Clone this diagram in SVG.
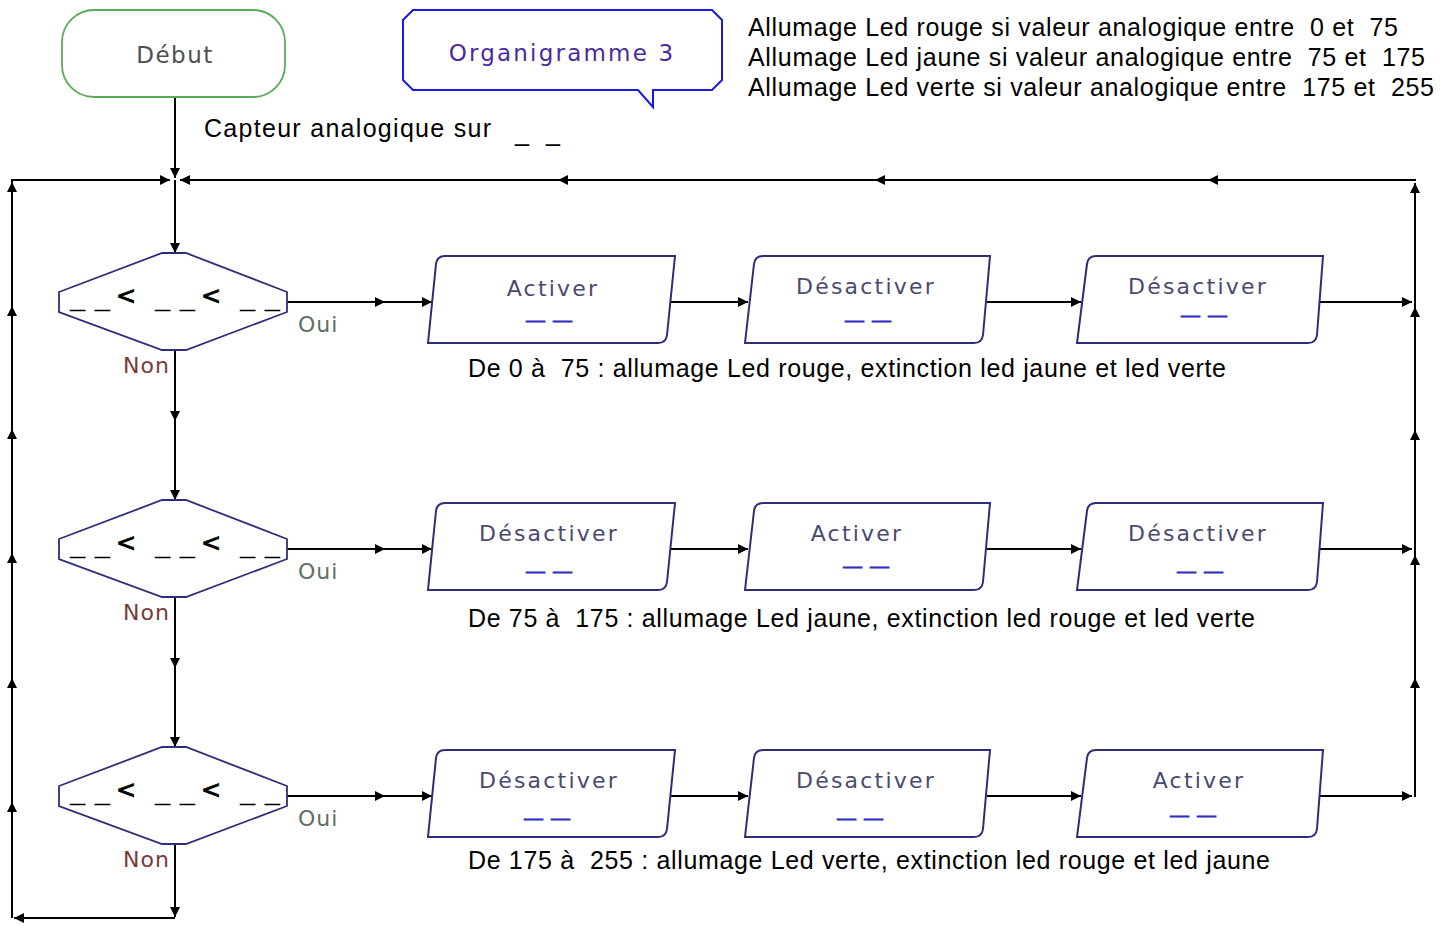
<svg xmlns="http://www.w3.org/2000/svg" width="1456" height="926" viewBox="0 0 1456 926">
<style>
.ln{stroke:#000;stroke-width:2;fill:none;marker-end:url(#arr)}
.box{fill:#fff;stroke:#2e2e78;stroke-width:2}
.dia{fill:#fff;stroke:#2e2e78;stroke-width:1.8}
.bt{font-family:"DejaVu Sans",sans-serif;font-size:22px;fill:#4a4a6e;letter-spacing:2.2px;text-anchor:middle}
.bd{font-family:"DejaVu Sans",sans-serif;font-size:14px;fill:#3030c0;stroke:#3030c0;stroke-width:0.9px}
.ar{font-family:"Liberation Sans",Arial,sans-serif;font-size:25px;fill:#000}
.dd{font-family:"DejaVu Sans",sans-serif;font-size:22px;fill:#000}
.lt{font-family:"DejaVu Sans",sans-serif;font-size:24px;fill:#000;stroke:#000;stroke-width:0.8px}
.oui{font-family:"DejaVu Sans",sans-serif;font-size:22px;fill:#607060;letter-spacing:1px}
.non{font-family:"DejaVu Sans",sans-serif;font-size:22px;fill:#7a3a3a;letter-spacing:1px}
</style>
<defs>
<marker id="arr" markerUnits="userSpaceOnUse" markerWidth="11" markerHeight="10" refX="10" refY="5" orient="auto">
<path d="M0,0 L10,5 L0,10 Z" fill="#000"/>
</marker>
</defs>
<rect width="1456" height="926" fill="#fff"/>

<g id="connectors">
<line class="ln" x1="175" y1="97" x2="175" y2="178"/>
<line class="ln" x1="175" y1="180" x2="175" y2="253"/>
<line class="ln" x1="175" y1="350" x2="175" y2="421"/>
<line class="ln" x1="175" y1="421" x2="175" y2="500"/>
<line class="ln" x1="175" y1="597" x2="175" y2="668"/>
<line class="ln" x1="175" y1="668" x2="175" y2="747"/>
<line class="ln" x1="175" y1="844" x2="175" y2="917"/>
<line class="ln" x1="175" y1="918" x2="14" y2="918"/>
<polyline points="12,918 12,180" stroke="#000" stroke-width="2" fill="none"/>
<line class="ln" x1="12" y1="918" x2="12" y2="802"/>
<line class="ln" x1="12" y1="802" x2="12" y2="678"/>
<line class="ln" x1="12" y1="678" x2="12" y2="553"/>
<line class="ln" x1="12" y1="553" x2="12" y2="429"/>
<line class="ln" x1="12" y1="429" x2="12" y2="306"/>
<line class="ln" x1="12" y1="306" x2="12" y2="182"/>
<line class="ln" x1="11" y1="180" x2="170" y2="180"/>
<line class="ln" x1="1416" y1="180" x2="1208" y2="180"/>
<line class="ln" x1="1208" y1="180" x2="875" y2="180"/>
<line class="ln" x1="875" y1="180" x2="558" y2="180"/>
<line class="ln" x1="558" y1="180" x2="180" y2="180"/>
<line class="ln" x1="1415" y1="797" x2="1415" y2="678"/>
<line class="ln" x1="1415" y1="678" x2="1415" y2="555"/>
<line class="ln" x1="1415" y1="555" x2="1415" y2="430"/>
<line class="ln" x1="1415" y1="430" x2="1415" y2="307"/>
<line class="ln" x1="1415" y1="307" x2="1415" y2="183"/>
<g id="row1-links">
<line class="ln" x1="287" y1="302" x2="385" y2="302"/>
<line class="ln" x1="385" y1="302" x2="432" y2="302"/>
<line class="ln" x1="671" y1="302" x2="748" y2="302"/>
<line class="ln" x1="987" y1="302" x2="1081" y2="302"/>
<line class="ln" x1="1320" y1="302" x2="1412" y2="302"/>
</g>
<g id="row2-links">
<line class="ln" x1="287" y1="549" x2="385" y2="549"/>
<line class="ln" x1="385" y1="549" x2="432" y2="549"/>
<line class="ln" x1="671" y1="549" x2="748" y2="549"/>
<line class="ln" x1="987" y1="549" x2="1081" y2="549"/>
<line class="ln" x1="1320" y1="549" x2="1412" y2="549"/>
</g>
<g id="row3-links">
<line class="ln" x1="287" y1="796" x2="385" y2="796"/>
<line class="ln" x1="385" y1="796" x2="432" y2="796"/>
<line class="ln" x1="671" y1="796" x2="748" y2="796"/>
<line class="ln" x1="987" y1="796" x2="1081" y2="796"/>
<line class="ln" x1="1320" y1="796" x2="1412" y2="796"/>
</g>
</g>

<g id="debut">
<rect x="62" y="10" width="223" height="87" rx="32" ry="32" fill="#fff" stroke="#5aaa5a" stroke-width="1.8"/>
<text x="175" y="63" font-family="DejaVu Sans, sans-serif" font-size="23" fill="#505050" letter-spacing="1.5" text-anchor="middle">Début</text>
</g>

<g id="titre">
<path d="M413,10 L712,10 L722,20 L722,80 L712,90 L653,90 L653,107 L638,90 L413,90 L403,80 L403,20 Z" fill="#fff" stroke="#1a1ae0" stroke-width="2"/>
<text x="562" y="61" font-family="DejaVu Sans, sans-serif" font-size="23" fill="#4a2aa0" letter-spacing="2.2" text-anchor="middle">Organigramme 3</text>
</g>

<g id="notes">
<text class="ar" x="748" y="36" textLength="650" xml:space="preserve">Allumage Led rouge si valeur analogique entre  0 et  75</text>
<text class="ar" x="748" y="66" textLength="677" xml:space="preserve">Allumage Led jaune si valeur analogique entre  75 et  175</text>
<text class="ar" x="748" y="96" textLength="686" xml:space="preserve">Allumage Led verte si valeur analogique entre  175 et  255</text>
<text class="ar" x="204" y="137" textLength="287">Capteur analogique sur</text>
<text class="ar" x="515" y="141" textLength="45" xml:space="preserve">_  _</text>
<text class="ar" x="468" y="377" textLength="758" xml:space="preserve">De 0 à  75 : allumage Led rouge, extinction led jaune et led verte</text>
<text class="ar" x="468" y="627" textLength="787" xml:space="preserve">De 75 à  175 : allumage Led jaune, extinction led rouge et led verte</text>
<text class="ar" x="468" y="869" textLength="802" xml:space="preserve">De 175 à  255 : allumage Led verte, extinction led rouge et led jaune</text>
</g>

<g id="test1">
<path class="dia" d="M162,253 L186,253 L287,292 L287,312 L186,350 L162,350 L59,312 L59,292 Z"/>
<text class="dd" x="70" y="306" textLength="40" lengthAdjust="spacingAndGlyphs" xml:space="preserve">_ _</text>
<text class="dd" x="155" y="306" textLength="40" lengthAdjust="spacingAndGlyphs" xml:space="preserve">_ _</text>
<text class="dd" x="240" y="306" textLength="40" lengthAdjust="spacingAndGlyphs" xml:space="preserve">_ _</text>
<text class="lt" x="116" y="304">&lt;</text>
<text class="lt" x="201" y="304">&lt;</text>
<text class="oui" x="298" y="332">Oui</text>
<text class="non" x="123" y="373">Non</text>
</g>
<g id="test2">
<path class="dia" d="M162,500 L186,500 L287,539 L287,559 L186,597 L162,597 L59,559 L59,539 Z"/>
<text class="dd" x="70" y="553" textLength="40" lengthAdjust="spacingAndGlyphs" xml:space="preserve">_ _</text>
<text class="dd" x="155" y="553" textLength="40" lengthAdjust="spacingAndGlyphs" xml:space="preserve">_ _</text>
<text class="dd" x="240" y="553" textLength="40" lengthAdjust="spacingAndGlyphs" xml:space="preserve">_ _</text>
<text class="lt" x="116" y="551">&lt;</text>
<text class="lt" x="201" y="551">&lt;</text>
<text class="oui" x="298" y="579">Oui</text>
<text class="non" x="123" y="620">Non</text>
</g>
<g id="test3">
<path class="dia" d="M162,747 L186,747 L287,786 L287,806 L186,844 L162,844 L59,806 L59,786 Z"/>
<text class="dd" x="70" y="800" textLength="40" lengthAdjust="spacingAndGlyphs" xml:space="preserve">_ _</text>
<text class="dd" x="155" y="800" textLength="40" lengthAdjust="spacingAndGlyphs" xml:space="preserve">_ _</text>
<text class="dd" x="240" y="800" textLength="40" lengthAdjust="spacingAndGlyphs" xml:space="preserve">_ _</text>
<text class="lt" x="116" y="798">&lt;</text>
<text class="lt" x="201" y="798">&lt;</text>
<text class="oui" x="298" y="826">Oui</text>
<text class="non" x="123" y="867">Non</text>
</g>

<g id="r1b1">
<path class="box" d="M445,256 L675,256 L667,335 Q666,343 658,343 L428,343 L436,264 Q437,256 445,256 Z"/>
<text class="bt" x="553" y="296">Activer</text>
<text class="bd" y="319"><tspan x="527" textLength="17" lengthAdjust="spacingAndGlyphs">_</tspan> <tspan x="554" textLength="17" lengthAdjust="spacingAndGlyphs">_</tspan></text>
</g>
<g id="r1b2">
<path class="box" d="M763,256 L990,256 L983,335 Q982,343 974,343 L745,343 L754,264 Q755,256 763,256 Z"/>
<text class="bt" x="866" y="294">Désactiver</text>
<text class="bd" y="319"><tspan x="846" textLength="17" lengthAdjust="spacingAndGlyphs">_</tspan> <tspan x="873" textLength="17" lengthAdjust="spacingAndGlyphs">_</tspan></text>
</g>
<g id="r1b3">
<path class="box" d="M1096,256 L1323,256 L1317,335 Q1316,343 1308,343 L1077,343 L1087,264 Q1088,256 1096,256 Z"/>
<text class="bt" x="1198" y="294">Désactiver</text>
<text class="bd" y="314"><tspan x="1182" textLength="17" lengthAdjust="spacingAndGlyphs">_</tspan> <tspan x="1209" textLength="17" lengthAdjust="spacingAndGlyphs">_</tspan></text>
</g>

<g id="r2b1">
<path class="box" d="M445,503 L675,503 L667,582 Q666,590 658,590 L428,590 L436,511 Q437,503 445,503 Z"/>
<text class="bt" x="549" y="541">Désactiver</text>
<text class="bd" y="570"><tspan x="527" textLength="17" lengthAdjust="spacingAndGlyphs">_</tspan> <tspan x="554" textLength="17" lengthAdjust="spacingAndGlyphs">_</tspan></text>
</g>
<g id="r2b2">
<path class="box" d="M763,503 L990,503 L983,582 Q982,590 974,590 L745,590 L754,511 Q755,503 763,503 Z"/>
<text class="bt" x="857" y="541">Activer</text>
<text class="bd" y="565"><tspan x="844" textLength="17" lengthAdjust="spacingAndGlyphs">_</tspan> <tspan x="871" textLength="17" lengthAdjust="spacingAndGlyphs">_</tspan></text>
</g>
<g id="r2b3">
<path class="box" d="M1096,503 L1323,503 L1317,582 Q1316,590 1308,590 L1077,590 L1087,511 Q1088,503 1096,503 Z"/>
<text class="bt" x="1198" y="541">Désactiver</text>
<text class="bd" y="570"><tspan x="1178" textLength="17" lengthAdjust="spacingAndGlyphs">_</tspan> <tspan x="1205" textLength="17" lengthAdjust="spacingAndGlyphs">_</tspan></text>
</g>

<g id="r3b1">
<path class="box" d="M445,750 L675,750 L667,829 Q666,837 658,837 L428,837 L436,758 Q437,750 445,750 Z"/>
<text class="bt" x="549" y="788">Désactiver</text>
<text class="bd" y="817"><tspan x="525" textLength="17" lengthAdjust="spacingAndGlyphs">_</tspan> <tspan x="552" textLength="17" lengthAdjust="spacingAndGlyphs">_</tspan></text>
</g>
<g id="r3b2">
<path class="box" d="M763,750 L990,750 L983,829 Q982,837 974,837 L745,837 L754,758 Q755,750 763,750 Z"/>
<text class="bt" x="866" y="788">Désactiver</text>
<text class="bd" y="817"><tspan x="838" textLength="17" lengthAdjust="spacingAndGlyphs">_</tspan> <tspan x="865" textLength="17" lengthAdjust="spacingAndGlyphs">_</tspan></text>
</g>
<g id="r3b3">
<path class="box" d="M1096,750 L1323,750 L1317,829 Q1316,837 1308,837 L1077,837 L1087,758 Q1088,750 1096,750 Z"/>
<text class="bt" x="1199" y="788">Activer</text>
<text class="bd" y="814"><tspan x="1171" textLength="17" lengthAdjust="spacingAndGlyphs">_</tspan> <tspan x="1198" textLength="17" lengthAdjust="spacingAndGlyphs">_</tspan></text>
</g>
</svg>
